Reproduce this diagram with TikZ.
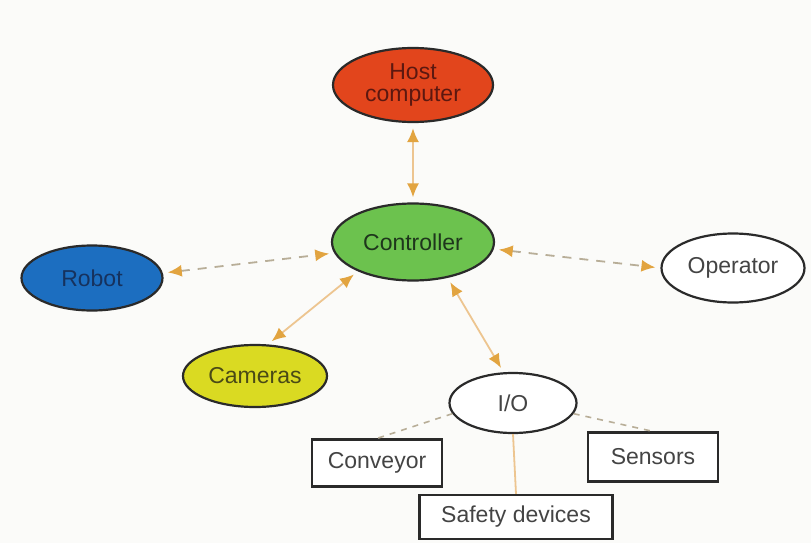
\documentclass[tikz,border=0pt]{standalone}
\usepackage{fontspec}
\setmainfont{Liberation Sans}
\usetikzlibrary{shapes.geometric,arrows.meta}

\definecolor{hostfill}{HTML}{E2451C}
\definecolor{hosttext}{HTML}{5C1810}
\definecolor{ctrlfill}{HTML}{6CC24E}
\definecolor{ctrltext}{HTML}{1E361C}
\definecolor{robotfill}{HTML}{1C6EC0}
\definecolor{robottext}{HTML}{16325E}
\definecolor{camfill}{HTML}{DADA22}
\definecolor{camtext}{HTML}{4A4A16}
\definecolor{greytext}{HTML}{444444}
\definecolor{outline}{HTML}{2A2A2A}
\definecolor{tipcol}{HTML}{E2A440}
\definecolor{linkcol}{HTML}{EDC590}
\definecolor{dashcol}{HTML}{B8AE98}
\definecolor{paper}{HTML}{FBFBF9}

\tikzset{
  oval/.style={ellipse, draw=outline, line width=2.2pt, inner sep=0pt,
    font=\fontsize{23}{22}\selectfont, align=center},
  boxnode/.style={rectangle, draw=outline, line width=2.2pt, inner sep=0pt,
    fill=white, text=greytext, font=\fontsize{23}{22}\selectfont},
  tiparrow/.style={line width=1.8pt, {Latex[length=14pt,width=12pt,fill=tipcol,color=tipcol]}-{Latex[length=14pt,width=12pt,fill=tipcol,color=tipcol]},
    shorten <=5pt, shorten >=5pt},
  solidlink/.style={tiparrow, draw=linkcol},
  dashlink/.style={tiparrow, draw=dashcol, dash pattern=on 9pt off 8pt},
  plainsolid/.style={draw=linkcol, line width=1.8pt},
  plaindash/.style={draw=dashcol, line width=1.6pt, dash pattern=on 6pt off 6pt}
}

\begin{document}
\begin{tikzpicture}[x=1pt,y=-1pt]
  % page background
  \fill[paper] (0,0) rectangle (811,543);
  \useasboundingbox (0,0) rectangle (811,543);

  % ellipse nodes
  \node[oval, fill=hostfill, text=hosttext, minimum width=160pt, minimum height=74pt]
    (host) at (413,85) {Host\\computer};
  \node[oval, fill=ctrlfill, text=ctrltext, minimum width=162pt, minimum height=77pt]
    (ctrl) at (413,242) {Controller};
  \node[oval, fill=robotfill, text=robottext, minimum width=141pt, minimum height=65pt]
    (robot) at (92,278) {Robot};
  \node[oval, fill=white, text=greytext, minimum width=143pt, minimum height=69pt]
    (op) at (733,268) {Operator};
  \node[oval, fill=camfill, text=camtext, minimum width=144pt, minimum height=62pt]
    (cam) at (255,376) {Cameras};
  \node[oval, fill=white, text=greytext, minimum width=127pt, minimum height=60pt]
    (io) at (513,403) {I/O};

  % rectangular nodes
  \node[boxnode, minimum width=130pt, minimum height=47pt] (conv) at (377,463) {Conveyor};
  \node[boxnode, minimum width=130pt, minimum height=49pt] (sens) at (653,457) {Sensors};
  \node[boxnode, minimum width=193pt, minimum height=44pt] (safe) at (516,517) {Safety devices};

  % two-way links to the controller
  \draw[solidlink] (host.south) -- (ctrl.north);
  \draw[dashlink] (robot.4) -- (ctrl.188);
  \draw[dashlink] (ctrl.355) -- (op.west);
  \draw[solidlink] (cam.68) -- (ctrl.208);
  \draw[solidlink] (ctrl.314) -- (io.107);

  % I/O fan-out
  \draw[plaindash] (io.190) -- (conv.north);
  \draw[plaindash] (io.350) -- (sens.north);
  \draw[plainsolid] (io.south) -- (safe.north);
\end{tikzpicture}
\end{document}
